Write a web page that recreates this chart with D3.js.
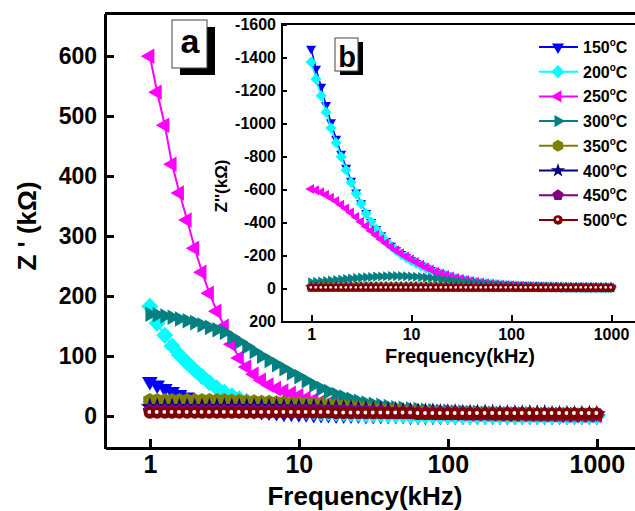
<!DOCTYPE html>
<html>
<head>
<meta charset="utf-8">
<script src="https://cdn.jsdelivr.net/npm/d3@7"></script>
<style>
  body { margin: 0; background: #fff; }
  svg { display: block; }
  text { font-family: "Liberation Sans", Arial, sans-serif; font-weight: bold; fill: #000; }
</style>
</head>
<body>
<svg id="chart" width="635" height="511"></svg>
<script>
// frequencies (kHz), same for every temperature
const freq = [1, 1.12, 1.26, 1.41, 1.58, 1.78, 2, 2.24, 2.51, 2.82, 3.16, 3.55, 3.98, 4.47, 5.01, 5.62, 6.31, 7.08, 7.94, 8.91,
  10, 11.2, 12.6, 14.1, 15.8, 17.8, 20, 22.4, 25.1, 28.2, 31.6, 35.5, 39.8, 44.7, 50.1, 56.2, 63.1, 70.8, 79.4, 89.1,
  100, 112, 126, 141, 158, 178, 200, 224, 251, 282, 316, 355, 398, 447, 501, 562, 631, 708, 794, 891, 1000];

const temps = ['150', '200', '250', '300', '350', '400', '450', '500'];
const colors = ['#0000ff', '#00ffff', '#ff00ff', '#008080', '#808000', '#000080', '#800080', '#800000'];
const shapes = ['down', 'diamond', 'left', 'right', 'hexagon', 'star', 'pentagon', 'circle'];

const xTicks = [1, 10, 100, 1000];
const reTicks = [0, 100, 200, 300, 400, 500, 600];
const imTicks = [-1600, -1400, -1200, -1000, -800, -600, -400, -200, 0, 200];

// Z' (kOhm), panel a
const re150 = [58, 52, 46, 41, 36, 32, 28, 24, 21, 18, 16, 14, 12, 10, 9, 8, 7, 6, 5, 5, 4,
  4, 3, 3, 3, 2, 2, 2, 2, 1, 1, 1, 1, 1, 1, 0, 0, 0, 0, 0, 0,
  0, 0, 0, 0, 0, 0, 0, 0, 0, 0, 0, 0, 0, 0, 0, 0, 0, 0, 0, 0];
const re200 = [183, 155, 135, 117, 102, 89, 77, 66, 56, 47, 40, 34, 29, 25, 21, 18, 16, 14, 12, 10, 9,
  8, 7, 6, 6, 5, 5, 4, 4, 3, 3, 3, 2, 2, 2, 1, 1, 1, 1, 1, 0,
  0, 0, 0, 0, 0, 0, 0, 0, 0, 0, 0, 0, 0, 0, 0, 0, 0, 0, 0, 0];
const re250 = [600, 540, 485, 420, 372, 327, 280, 240, 205, 175, 150, 120, 97, 82, 70, 60, 52, 46, 42, 38, 34,
  30, 27, 24, 21, 19, 17, 15, 13, 12, 11, 10, 9, 8, 7, 7, 6, 6, 5, 5, 4,
  4, 4, 3, 3, 3, 3, 3, 2, 2, 2, 2, 2, 2, 2, 1, 1, 1, 1, 1, 1];
const re300 = [170, 169, 167, 165, 162, 159, 156, 152, 148, 144, 140, 132, 124, 116, 108, 100, 93, 86, 79, 72, 66,
  59, 52, 46, 41, 36, 32, 28, 25, 22, 20, 18, 16, 14, 13, 12, 11, 10, 9, 8, 8,
  7, 7, 6, 6, 5, 5, 5, 4, 4, 4, 4, 3, 3, 3, 3, 3, 3, 2, 2, 2];
const re350 = [26, 26, 26, 26, 26, 26, 26, 26, 26, 26, 26, 25, 25, 24, 24, 23, 23, 22, 22, 21, 21,
  20, 20, 19, 18, 17, 16, 15, 14, 13, 12, 11, 10, 10, 9, 8, 8, 7, 7, 6, 6,
  6, 5, 5, 5, 5, 4, 4, 4, 4, 4, 4, 3, 3, 3, 3, 3, 3, 3, 3, 3];
const re400 = [15, 15, 15, 15, 15, 15, 15, 15, 15, 15, 15, 15, 15, 15, 15, 15, 15, 15, 14, 14, 14,
  14, 14, 13, 13, 13, 12, 12, 11, 11, 10, 10, 9, 9, 8, 8, 7, 7, 7, 6, 6,
  6, 5, 5, 5, 5, 5, 4, 4, 4, 4, 4, 4, 4, 3, 3, 3, 3, 3, 3, 3];
const re450 = [9, 9, 9, 9, 9, 9, 9, 9, 9, 9, 9, 9, 9, 9, 9, 9, 9, 9, 9, 9, 9,
  9, 9, 9, 8, 8, 8, 8, 7, 7, 7, 7, 6, 6, 6, 6, 5, 5, 5, 5, 5,
  5, 5, 4, 4, 4, 4, 4, 4, 4, 4, 3, 3, 3, 3, 3, 3, 3, 3, 3, 3];
const re500 = [6, 6, 6, 6, 6, 6, 6, 6, 6, 6, 6, 6, 6, 6, 6, 6, 6, 6, 6, 6, 6,
  6, 6, 6, 6, 5, 5, 5, 5, 5, 5, 5, 5, 5, 5, 5, 4, 4, 4, 4, 4,
  4, 4, 4, 4, 4, 4, 4, 4, 4, 4, 4, 4, 4, 4, 4, 4, 4, 4, 4, 4];

// Z'' (kOhm), panel b
const im150 = [-1450, -1330, -1220, -1110, -1005, -905, -815, -730, -650, -580, -515, -455, -400, -358, -320, -286, -256, -230, -207, -187, -169,
  -152, -137, -123, -110, -98, -87, -77, -68, -60, -53, -47, -42, -37, -33, -29, -26, -23, -21, -19, -17,
  -15, -14, -13, -12, -11, -10, -9, -8, -8, -7, -6, -6, -5, -5, -4, -4, -4, -3, -3, -3];
const im200 = [-1370, -1265, -1165, -1065, -970, -880, -795, -715, -640, -572, -510, -452, -400, -356, -318, -284, -254, -228, -205, -185, -167,
  -150, -135, -121, -108, -96, -85, -75, -66, -58, -51, -45, -40, -35, -31, -27, -24, -21, -19, -17, -15,
  -13, -12, -11, -10, -9, -8, -7, -7, -6, -5, -5, -4, -4, -4, -3, -3, -3, -2, -2, -2];
const im250 = [-600, -592, -580, -565, -547, -527, -505, -482, -457, -430, -402, -374, -347, -321, -296, -272, -250, -229, -210, -191, -174,
  -157, -141, -126, -112, -99, -88, -78, -69, -61, -54, -48, -42, -37, -33, -29, -26, -23, -20, -18, -16,
  -14, -13, -12, -11, -10, -9, -8, -7, -7, -6, -6, -5, -5, -4, -4, -4, -3, -3, -3, -3];
const im300 = [-35, -37, -40, -43, -46, -49, -52, -55, -58, -61, -63, -65, -67, -69, -70, -71, -72, -72, -72, -71, -70,
  -68, -66, -63, -60, -57, -53, -49, -45, -41, -37, -34, -31, -28, -25, -22, -20, -18, -16, -14, -13,
  -12, -11, -10, -9, -8, -7, -7, -6, -6, -5, -5, -4, -4, -4, -3, -3, -3, -3, -2, -2];
const im350 = [-8, -8, -9, -9, -9, -10, -10, -10, -10, -11, -11, -11, -11, -11, -11, -11, -11, -11, -11, -11, -11,
  -11, -10, -10, -10, -9, -9, -9, -8, -8, -8, -7, -7, -7, -6, -6, -6, -5, -5, -5, -5,
  -4, -4, -4, -4, -4, -3, -3, -3, -3, -3, -3, -3, -2, -2, -2, -2, -2, -2, -2, -2];
const im400 = [-5, -5, -5, -5, -5, -5, -5, -5, -5, -5, -5, -5, -5, -5, -5, -5, -5, -5, -5, -5, -5,
  -5, -5, -5, -5, -5, -4, -4, -4, -4, -4, -4, -4, -3, -3, -3, -3, -3, -3, -3, -3,
  -3, -3, -3, -3, -3, -3, -3, -3, -3, -3, -2, -2, -2, -2, -2, -2, -2, -2, -2, -2];
const im450 = [-3, -3, -3, -3, -3, -3, -3, -3, -3, -3, -3, -3, -3, -3, -3, -3, -3, -3, -3, -3, -3,
  -3, -3, -3, -3, -3, -3, -3, -3, -3, -3, -3, -3, -3, -3, -3, -3, -3, -3, -3, -3,
  -2, -2, -2, -2, -2, -2, -2, -2, -2, -2, -2, -2, -2, -2, -2, -2, -2, -2, -2, -2];
const im500 = [-1, -1, -1, -1, -1, -1, -1, -1, -1, -1, -1, -1, -1, -1, -1, -1, -1, -1, -1, -1, -1,
  -1, -1, -1, -1, -1, -1, -1, -1, -1, -1, -1, -1, -1, -1, -1, -1, -1, -1, -1, -1,
  -1, -1, -1, -1, -1, -1, -1, -1, -1, -1, -1, -1, -1, -1, -1, -1, -1, -1, -1, -1];

const reSeries = [re150, re200, re250, re300, re350, re400, re450, re500];
const imSeries = [im150, im200, im250, im300, im350, im400, im450, im500];

const svg = d3.select('#chart');

// regular polygon, angle 0 = vertex pointing up
function polygon(n, r, rot) {
  const pts = d3.range(n).map(k => {
    const a = rot + k * 2 * Math.PI / n;
    return [r * Math.sin(a), -r * Math.cos(a)];
  });
  return 'M' + pts.map(p => p.join(',')).join('L') + 'Z';
}

function markerPath(shape, r) {
  switch (shape) {
    case 'down': return polygon(3, r, Math.PI);
    case 'left': return polygon(3, r, -Math.PI / 2);
    case 'right': return polygon(3, r, Math.PI / 2);
    case 'diamond': return polygon(4, r * 0.95, 0);
    case 'hexagon': return polygon(6, r * 0.85, 0);
    case 'pentagon': return polygon(5, r * 0.85, 0);
    case 'star': return d3.symbol().type(d3.symbolStar).size(r * r * 1.3)();
    default: return d3.symbol().type(d3.symbolCircle).size(Math.PI * (r * 0.68) ** 2)();
  }
}

function drawMarker(g, shape, color, r) {
  g.append('path').attr('d', markerPath(shape, r)).attr('fill', color);
  if (shape === 'circle') {
    g.append('circle').attr('r', r * 0.22).attr('cx', -r * 0.05).attr('cy', -r * 0.08).attr('fill', '#fff');
  }
}

function drawSeries(g, x, y, values, i, r, lw) {
  const pts = freq.map((f, k) => ({ f: f, v: values[k] }));
  const line = d3.line().x(d => x(d.f)).y(d => y(d.v));
  g.append('path').datum(pts).attr('d', line)
    .attr('fill', 'none').attr('stroke', colors[i]).attr('stroke-width', lw);
  g.append('g').selectAll('g').data(pts).enter().append('g')
    .attr('transform', d => `translate(${x(d.f)},${y(d.v)})`)
    .each(function () { drawMarker(d3.select(this), shapes[i], colors[i], r); });
}

// ---------- panel a ----------
const xA = d3.scaleLog().domain([0.5, 1950]).range([105, 640]);
const yA = d3.scaleLinear().domain([-53, 672]).range([448, 13]);

const gA = svg.append('g');
reSeries.forEach((vals, i) => drawSeries(gA, xA, yA, vals, i, 9, 2));

const axA = svg.append('g');
axA.append('g').attr('transform', 'translate(0,448)')
  .call(d3.axisBottom(xA).tickValues(xTicks).tickFormat(d3.format('d')).tickSizeInner(-9).tickSizeOuter(0).tickPadding(7))
  .call(g => g.selectAll('text').style('font-size', '25px').attr('dy', '0.71em'));
axA.append('g').attr('transform', 'translate(105,0)')
  .call(d3.axisLeft(yA).tickValues(reTicks).tickFormat(d3.format('d')).tickSizeInner(-9).tickSizeOuter(0).tickPadding(8))
  .call(g => g.selectAll('text').style('font-size', '23px'));
axA.selectAll('.domain').attr('stroke-width', 3).attr('stroke', '#000').attr('shape-rendering', 'crispEdges');
axA.selectAll('.tick line').attr('stroke-width', 2.5).attr('stroke', '#000').attr('shape-rendering', 'crispEdges');
axA.selectAll('text').attr('fill', '#000').attr('font-family', null);
axA.append('line').attr('x1', 105).attr('x2', 640).attr('y1', 13).attr('y2', 13)
  .attr('stroke', '#000').attr('stroke-width', 3).attr('shape-rendering', 'crispEdges');

svg.append('text').attr('x', 365).attr('y', 505).attr('text-anchor', 'middle')
  .style('font-size', '26px').text('Frequency(kHz)');
svg.append('text').attr('transform', 'translate(36,226) rotate(-90)').attr('text-anchor', 'middle')
  .style('font-size', '26px').text("Z ' (kΩ)");

// label a
svg.append('rect').attr('x', 180).attr('y', 27).attr('width', 35).attr('height', 48).attr('fill', '#000');
svg.append('rect').attr('x', 172).attr('y', 20).attr('width', 35).attr('height', 48)
  .attr('fill', '#fff').attr('stroke', '#444').attr('stroke-width', 1);
svg.append('text').attr('x', 190).attr('y', 53).attr('text-anchor', 'middle').style('font-size', '34px').text('a');

// ---------- panel b (inset) ----------
const xB = d3.scaleLog().domain([0.5, 1950]).range([281, 640]);
const yB = d3.scaleLinear().domain([-1600, 200]).range([24, 321]);

svg.append('rect').attr('x', 281).attr('y', 24).attr('width', 360).attr('height', 297).attr('fill', '#fff');

const gB = svg.append('g');
imSeries.forEach((vals, i) => drawSeries(gB, xB, yB, vals, i, 5.8, 1.5));

const axB = svg.append('g');
axB.append('g').attr('transform', 'translate(0,321)')
  .call(d3.axisBottom(xB).tickValues(xTicks).tickFormat(d3.format('d')).tickSizeInner(-6).tickSizeOuter(0).tickPadding(8))
  .call(g => g.selectAll('text').style('font-size', '16px').attr('dy', '0.71em'));
axB.append('g').attr('transform', 'translate(281,0)')
  .call(d3.axisLeft(yB).tickValues(imTicks).tickFormat(d => String(d)).tickSizeInner(-6).tickSizeOuter(0).tickPadding(5))
  .call(g => g.selectAll('text').style('font-size', '16px'));
axB.selectAll('.domain').attr('stroke-width', 2).attr('stroke', '#000').attr('shape-rendering', 'crispEdges');
axB.selectAll('.tick line').attr('stroke-width', 2).attr('stroke', '#000').attr('shape-rendering', 'crispEdges');
axB.selectAll('text').attr('fill', '#000').attr('font-family', null);
axB.append('line').attr('x1', 281).attr('x2', 640).attr('y1', 24).attr('y2', 24)
  .attr('stroke', '#000').attr('stroke-width', 2).attr('shape-rendering', 'crispEdges');

svg.append('text').attr('x', 460).attr('y', 363).attr('text-anchor', 'middle')
  .style('font-size', '20px').text('Frequency(kHz)');
svg.append('text').attr('transform', 'translate(227,186) rotate(-90)').attr('text-anchor', 'middle')
  .style('font-size', '17px').text("Z''(kΩ)");

// label b
svg.append('rect').attr('x', 340).attr('y', 42).attr('width', 23).attr('height', 33).attr('fill', '#000');
svg.append('rect').attr('x', 335).attr('y', 38).attr('width', 23).attr('height', 33)
  .attr('fill', '#fff').attr('stroke', '#444').attr('stroke-width', 1);
svg.append('text').attr('x', 347).attr('y', 67).attr('text-anchor', 'middle').style('font-size', '29px').text('b');

// legend
const legend = svg.append('g');
temps.forEach((t, i) => {
  const ly = 47 + i * 24.7;
  const row = legend.append('g').attr('transform', `translate(0,${ly})`);
  row.append('line').attr('x1', 539).attr('x2', 578).attr('y1', 0).attr('y2', 0)
    .attr('stroke', colors[i]).attr('stroke-width', 2);
  drawMarker(row.append('g').attr('transform', 'translate(558,0)'), shapes[i], colors[i], 7);
  const txt = row.append('text').attr('x', 583).attr('y', 6).style('font-size', '16px');
  txt.append('tspan').text(t);
  txt.append('tspan').attr('dy', -7).style('font-size', '10px').text('o');
  txt.append('tspan').attr('dy', 7).text('C');
});
</script>
</body>
</html>
